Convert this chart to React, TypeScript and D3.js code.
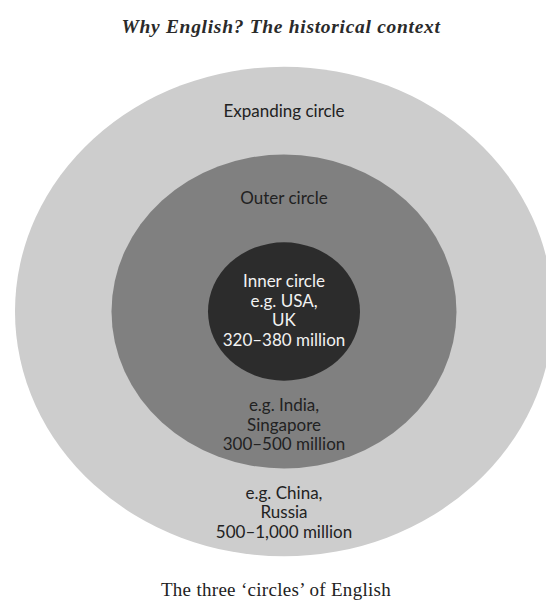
import React from "react";
import * as d3 from "d3";

// ---- data ----
const circleNames = ["Inner circle", "Outer circle", "Expanding circle"];
const circleExamples = [
  ["e.g. USA,", "UK"],
  ["e.g. India,", "Singapore"],
  ["e.g. China,", "Russia"],
];
const speakerRanges = ["320–380 million", "300–500 million", "500–1,000 million"];
const circleIndex = [0, 1, 2];
const titleText = "Why English? The historical context";
const captionText = "The three \u2018circles\u2019 of English";

const W = 546;
const H = 601;

export default function App() {
  const cx = 284;
  const cy = 311.5;
  const aspect = 0.91;
  const rScale = d3.scaleLinear().domain([0, 2]).range([76, 269]);
  const fill = d3
    .scaleOrdinal<number, string>()
    .domain(circleIndex)
    .range(["#2c2c2c", "#808080", "#cdcdcd"]);
  const sans = "Lato, 'Open Sans', sans-serif";
  const lh = 19.5;
  const fs = 17;

  const ry = (i: number) => rScale(i) * aspect;

  return (
    <svg
      width={W}
      height={H}
      viewBox={`0 0 ${W} ${H}`}
      style={{ position: "absolute", left: 0, top: 0, background: "#fff" }}
    >
      <text
        x={281}
        y={33}
        textAnchor="middle"
        fontFamily="'Liberation Serif', serif"
        fontStyle="italic"
        fontWeight="bold"
        fontSize={19.5}
        letterSpacing={0.7}
        fill="#2a2a2a"
      >
        {titleText}
      </text>

      {[...circleIndex].reverse().map((i) => (
        <ellipse
          key={i}
          cx={cx}
          cy={cy}
          rx={rScale(i)}
          ry={ry(i)}
          fill={fill(i)}
        />
      ))}

      {/* inner circle label */}
      <g fontFamily={sans} fontSize={fs} textAnchor="middle" fill="#f2f2f2">
        {[circleNames[0], ...circleExamples[0], speakerRanges[0]].map((t, k) => (
          <text key={k} x={cx} y={cy + 5 + (k - 1.5) * lh}>
            {t}
          </text>
        ))}
      </g>

      {/* ring labels */}
      {circleIndex.slice(1).map((i) => {
        const topMid = cy - (ry(i) + ry(i - 1)) / 2;
        const botMid = cy + (ry(i) + ry(i - 1)) / 2;
        const lines = [...circleExamples[i], speakerRanges[i]];
        return (
          <g key={i} fontFamily={sans} fontSize={fs} textAnchor="middle" fill="#222">
            <text x={cx} y={topMid + 6}>
              {circleNames[i]}
            </text>
            {lines.map((t, k) => (
              <text key={k} x={cx} y={botMid + 6 + (k - 1) * lh}>
                {t}
              </text>
            ))}
          </g>
        );
      })}

      <text
        x={276}
        y={596}
        textAnchor="middle"
        fontFamily="'Liberation Serif', serif"
        fontSize={19}
        letterSpacing={0.3}
        fill="#222"
      >
        {captionText}
      </text>
    </svg>
  );
}
